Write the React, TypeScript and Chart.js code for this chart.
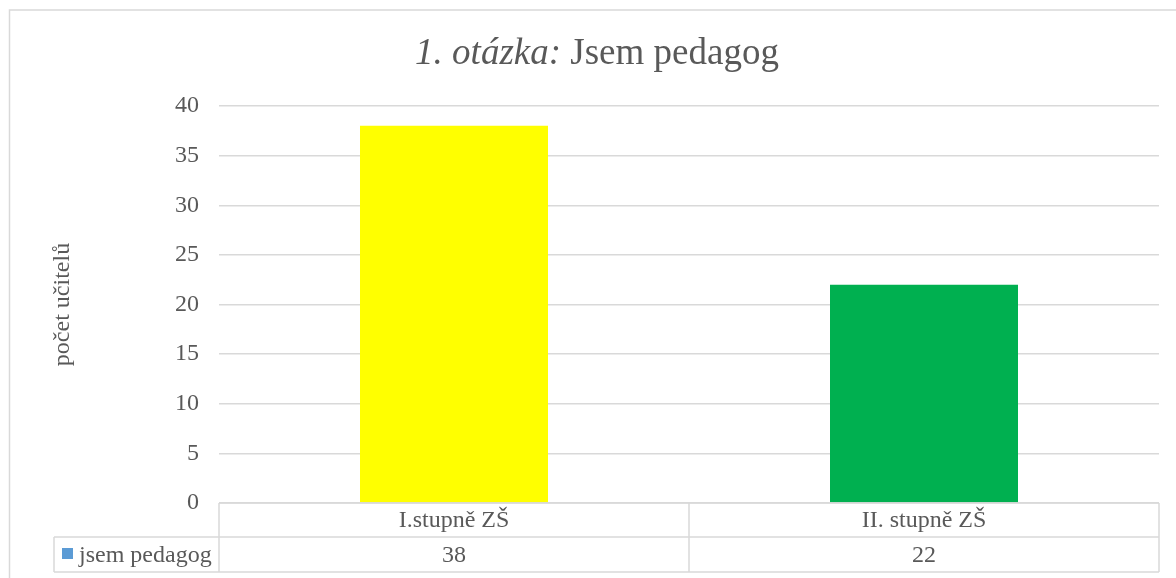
import React, { useEffect, useRef } from 'react';
import { Chart, registerables } from 'chart.js';

Chart.register(...registerables);

// ---- data ----
const categories: string[] = ['I.stupně ZŠ', 'II. stupně ZŠ'];
const values: number[] = [38, 22];
const seriesName = 'jsem pedagog';
const barColors: string[] = ['#FFFF00', '#00B050'];
const seriesKeyColor = '#5B9BD5';
const yMin = 0;
const yMax = 40;
const yStep = 5;
const titleItalic = '1. otázka:';
const titleRest = ' Jsem pedagog';
const yTitle = 'počet učitelů';

// ---- style ----
const FONT = '"Liberation Serif"';
const TEXT = '#595959';
const LINE = '#d9d9d9';
const ROW1 = 34;
const ROW2 = 35;
const HEADER_LEFT = 54;

const framePlugin = {
  id: 'frame',
  beforeDraw(chart: any) {
    const { ctx } = chart;
    ctx.save();
    ctx.strokeStyle = LINE;
    ctx.lineWidth = 1.5;
    ctx.beginPath();
    ctx.moveTo(9.5, chart.height);
    ctx.lineTo(9.5, 10);
    ctx.lineTo(chart.width, 10);
    ctx.stroke();

    const size = 37;
    ctx.font = `italic ${size}px ${FONT}`;
    const w1 = ctx.measureText(titleItalic).width;
    ctx.font = `${size}px ${FONT}`;
    const w2 = ctx.measureText(titleRest).width;
    const cx = 597;
    const start = cx - (w1 + w2) / 2;
    ctx.fillStyle = TEXT;
    ctx.textAlign = 'left';
    ctx.textBaseline = 'alphabetic';
    ctx.font = `italic ${size}px ${FONT}`;
    ctx.fillText(titleItalic, start, 64);
    ctx.font = `${size}px ${FONT}`;
    ctx.fillText(titleRest, start + w1, 64);
    ctx.restore();
  },
};

const tablePlugin = {
  id: 'dataTable',
  afterDraw(chart: any) {
    const { ctx, chartArea, scales } = chart;
    const x = scales.x;
    const top = chartArea.bottom;
    const mid = top + ROW1;
    const bot = mid + ROW2;
    const left = chartArea.left;
    const right = chartArea.right;
    const centers = categories.map((_, i) => x.getPixelForValue(i));
    const bounds: number[] = [left];
    for (let i = 0; i < centers.length - 1; i++) bounds.push((centers[i] + centers[i + 1]) / 2);
    bounds.push(right);

    ctx.save();
    ctx.strokeStyle = LINE;
    ctx.lineWidth = 1.5;
    ctx.beginPath();
    ctx.moveTo(left, top);
    ctx.lineTo(right, top);
    ctx.moveTo(HEADER_LEFT, mid);
    ctx.lineTo(right, mid);
    ctx.moveTo(HEADER_LEFT, bot);
    ctx.lineTo(right, bot);
    bounds.forEach((b) => {
      ctx.moveTo(b, top);
      ctx.lineTo(b, bot);
    });
    ctx.moveTo(HEADER_LEFT, mid);
    ctx.lineTo(HEADER_LEFT, bot);
    ctx.stroke();

    ctx.fillStyle = TEXT;
    ctx.font = `24px ${FONT}`;
    ctx.textAlign = 'center';
    ctx.textBaseline = 'middle';
    categories.forEach((c, i) => {
      ctx.fillText(c, centers[i], top + ROW1 / 2 + 1);
    });
    const ds = chart.data.datasets[0];
    (ds.data as number[]).forEach((v, i) => {
      ctx.fillText(String(v), centers[i], mid + ROW2 / 2 + 1);
    });

    ctx.fillStyle = seriesKeyColor;
    ctx.fillRect(62, mid + 11, 11, 11);
    ctx.fillStyle = TEXT;
    ctx.textAlign = 'left';
    ctx.fillText(seriesName, 79, mid + ROW2 / 2 + 1);
    ctx.restore();
  },
};

export default function App() {
  const ref = useRef<HTMLCanvasElement | null>(null);

  useEffect(() => {
    if (!ref.current) return;
    const chart = new Chart(ref.current, {
      type: 'bar',
      data: {
        labels: categories,
        datasets: [
          {
            label: seriesName,
            data: values,
            backgroundColor: barColors,
            borderWidth: 0,
            categoryPercentage: 1,
            barPercentage: 0.4,
          },
        ],
      },
      options: {
        animation: false,
        responsive: true,
        maintainAspectRatio: false,
        layout: { padding: { left: 0, right: 17, top: 106, bottom: 75 } },
        plugins: {
          legend: { display: false },
          title: { display: false },
          tooltip: { enabled: false },
        },
        scales: {
          x: { display: false },
          y: {
            min: yMin,
            max: yMax,
            ticks: {
              stepSize: yStep,
              color: TEXT,
              padding: 20,
              font: { family: FONT, size: 24 },
            },
            grid: { color: LINE, lineWidth: 1.5, drawTicks: false },
            border: { display: false },
            title: {
              display: true,
              text: yTitle,
              color: TEXT,
              font: { family: FONT, size: 24 },
              padding: { top: 48, bottom: 0 },
            },
            afterFit: (axis: any) => {
              axis.width = 219;
            },
          },
        },
      },
      plugins: [framePlugin, tablePlugin],
    });
    return () => chart.destroy();
  }, []);

  return (
    <div style={{ position: 'fixed', left: 0, top: 0, width: 1176, height: 578, background: '#fff' }}>
      <canvas ref={ref} />
    </div>
  );
}
